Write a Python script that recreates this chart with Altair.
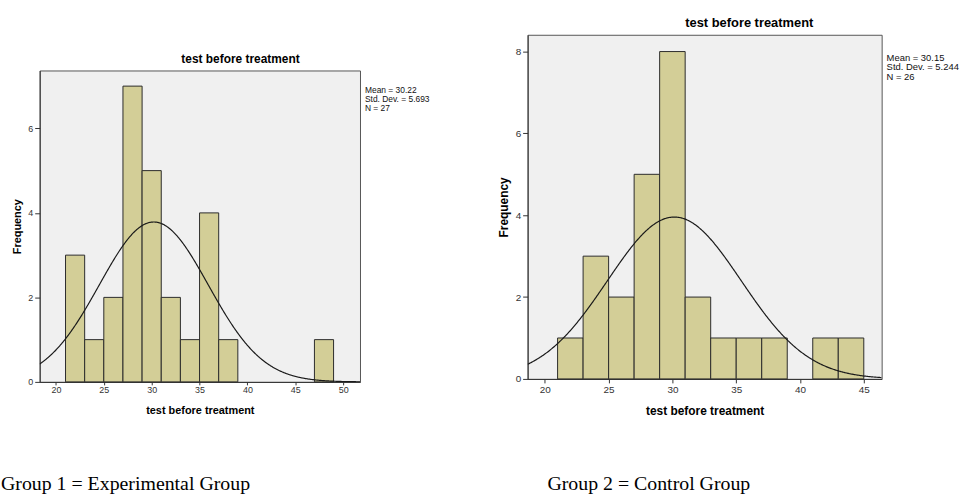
import altair as alt
import pandas as pd

# Group 1 (experimental): bin starts and frequencies, plus summary statistics
g1_bin_start = [21, 23, 25, 27, 29, 31, 33, 35, 37, 47]
g1_counts = [3, 1, 2, 7, 5, 2, 1, 4, 1, 1]
g1_mean, g1_sd, g1_n = 30.22, 5.693, 27

# Group 2 (control)
g2_bin_start = [21, 23, 25, 27, 29, 31, 33, 35, 37, 41, 43]
g2_counts = [1, 3, 2, 5, 8, 2, 1, 1, 1, 1, 1]
g2_mean, g2_sd, g2_n = 30.15, 5.244, 26

bin_width = 2
var_name = "test before treatment"

BAR_FILL = "#d3ce97"
AXIS_COLOR = "#333333"
PLOT_BG = alt.ViewBackground(fill="#f0f0f0", stroke="#555555", strokeWidth=1)


def panel(starts, counts, mean, sd, n, xdom, xticks, ydom, yticks, w, h,
          fs, caption, caption_dx, caption_dy, title_dx, stats_dy,
          x_tick, x_pad, x_title_pad):
    df = pd.DataFrame({
        "start": starts,
        "end": [b + bin_width for b in starts],
        "count": counts,
    })
    x_enc = alt.X(
        "start:Q",
        scale=alt.Scale(domain=xdom, nice=False, zero=False),
        axis=alt.Axis(values=xticks, format="d", title=var_name,
                      titleFontSize=fs + 2, titleFontWeight="bold",
                      titlePadding=x_title_pad, labelFontSize=fs,
                      tickSize=x_tick, labelPadding=x_pad),
    )
    y_enc = alt.Y(
        "count:Q",
        scale=alt.Scale(domain=ydom, nice=False, zero=True),
        axis=alt.Axis(values=yticks, format="d", title="Frequency",
                      titleFontSize=fs + 2, titleFontWeight="bold",
                      titlePadding=5, labelFontSize=fs, tickSize=5,
                      labelPadding=2),
    )
    bars = alt.Chart(df).mark_bar(
        fill=BAR_FILL, stroke="#2a2a2a", strokeWidth=1
    ).encode(x=x_enc, x2="end:Q", y=y_enc, y2=alt.datum(0))

    # fitted normal curve scaled to counts: n * bin width * pdf
    curve = alt.Chart(alt.sequence(xdom[0], xdom[1] + 0.05, 0.05, as_="start")).transform_calculate(
        count=f"{n * bin_width} * densityNormal(datum.start, {mean}, {sd})"
    ).mark_line(color="#1a1a1a", strokeWidth=1.2, clip=True).encode(x=x_enc, y=y_enc)

    stats = alt.Chart(pd.DataFrame({"k": [0]})).mark_text(
        text=[f"Mean = {mean}", f"Std. Dev. = {sd}", f"N = {n}"],
        align="left", baseline="top", fontSize=fs - 0.5, lineHeight=fs,
        font="Liberation Sans", color="#111111",
    ).encode(x=alt.value(w + 5), y=alt.value(stats_dy))

    cap = alt.Chart(pd.DataFrame({"k": [0]})).mark_text(
        text=caption, align="left", baseline="middle", fontSize=20,
        font="Liberation Serif", color="#000000",
    ).encode(x=alt.value(caption_dx), y=alt.value(h + caption_dy))

    return alt.layer(bars, curve, stats, cap).properties(
        width=w, height=h, view=PLOT_BG,
        title=alt.TitleParams(
            text=var_name, fontSize=fs + 3, fontWeight="bold",
            anchor="middle", dx=title_dx, offset=5,
            font="Liberation Sans", color="#000000",
        ),
    )


left = panel(g1_bin_start, g1_counts, g1_mean, g1_sd, g1_n,
             [18.3, 51.76], [20, 25, 30, 35, 40, 45, 50],
             [0, 7.37], [0, 2, 4, 6], 323, 314, 9,
             "Group 1 = Experimental Group", -39, 103, 41, 16,
             3, 1, 10)

right = panel(g2_bin_start, g2_counts, g2_mean, g2_sd, g2_n,
              [18.65, 46.4], [20, 25, 30, 35, 40, 45],
              [0, 8.41], [0, 2, 4, 6, 8], 357, 347, 10,
              "Group 2 = Control Group", 20, 106, 45, 18,
              4, 2, 11)

# empty band that drops the first histogram below the second one
spacer = alt.Chart(pd.DataFrame({"k": [0]})).mark_point(opacity=0).encode(
    x=alt.value(0), y=alt.value(0)
).properties(width=323, height=17,
             view=alt.ViewBackground(fill="white", strokeOpacity=0))

left_col = alt.vconcat(spacer, left, spacing=0)

chart = alt.hconcat(left_col, right, spacing=66).properties(
    padding={"left": 0, "top": 14, "right": 0, "bottom": 0},
    background="white",
).configure_axis(
    grid=False, domainColor=AXIS_COLOR, tickColor=AXIS_COLOR,
    labelColor=AXIS_COLOR, titleColor="#000000",
    labelFont="Liberation Sans", titleFont="Liberation Sans",
)

chart.save("out.html", embed_options={"renderer": "svg", "actions": False})
